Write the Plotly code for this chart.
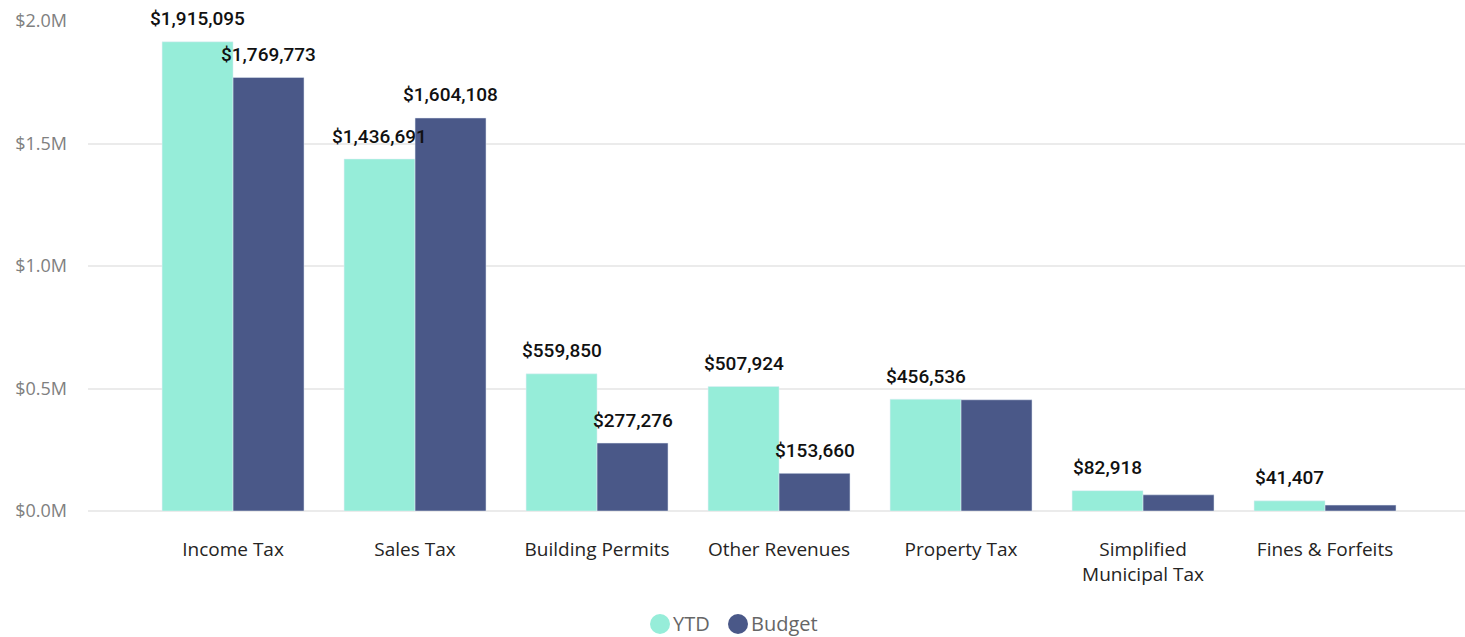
import plotly.graph_objects as go

categories = ["Income Tax", "Sales Tax", "Building Permits", "Other Revenues",
              "Property Tax", "Simplified<br>Municipal Tax", "Fines & Forfeits"]
ytd = [1915095, 1436691, 559850, 507924, 456536, 82918, 41407]
budget = [1769773, 1604108, 277276, 153660, 454000, 66000, 24000]

y_tickvals = [0, 500000, 1000000, 1500000, 2000000]
y_ticktext = ["$0.0M", "$0.5M", "$1.0M", "$1.5M", "$2.0M"]

YTD_COLOR = "#96EDD9"
BUDGET_COLOR = "#4A5888"
LABEL_FONT = dict(family="Roboto, DejaVu Sans", size=19, color="#111111", weight=500)

W, H = 1465, 637
M_L, M_R, M_T, M_B = 88, 0, 21, 126
plot_w = W - M_L - M_R
plot_h = H - M_T - M_B


def px_x(px):
    return (px - M_L) / plot_w


def px_y(py):
    return (H - M_B - py) / plot_h


x_idx = list(range(len(categories)))

fig = go.Figure()
fig.add_trace(go.Bar(x=x_idx, y=ytd, name="YTD", marker_color=YTD_COLOR,
                     hoverinfo="x+y"))
fig.add_trace(go.Bar(x=x_idx, y=budget, name="Budget", marker_color=BUDGET_COLOR,
                     hoverinfo="x+y"))

# Data labels above bars; budget labels are dropped when they would collide
# with the neighbouring YTD label.
bargap = 0.22
half = (1 - bargap) / 4
annotations = []
for i, (a, b) in enumerate(zip(ytd, budget)):
    annotations.append(dict(x=i - half, y=a, xref="x", yref="y",
                            text=f"${a:,.0f}", showarrow=False,
                            yanchor="middle", yshift=23, font=LABEL_FONT))
    if abs(a - b) > 100000:
        annotations.append(dict(x=i + half, y=b, xref="x", yref="y",
                                text=f"${b:,.0f}", showarrow=False,
                                yanchor="middle", yshift=23, font=LABEL_FONT))

# Legend row: round swatch + series name
shapes = []
legend_items = [("YTD", YTD_COLOR, 660), ("Budget", BUDGET_COLOR, 738)]
legend_y = 624
for name, color, cx in legend_items:
    shapes.append(dict(type="circle", xref="paper", yref="paper",
                       xsizemode="pixel", ysizemode="pixel",
                       xanchor=px_x(cx), yanchor=px_y(legend_y),
                       x0=-10, x1=10, y0=-10, y1=10,
                       fillcolor=color, line=dict(width=0)))
    annotations.append(dict(x=px_x(cx + 11), xref="paper", xanchor="left",
                            y=px_y(legend_y), yref="paper", yanchor="middle",
                            text=name, showarrow=False,
                            font=dict(size=20, color="#666666",
                                      family="Segoe UI, Open Sans, sans-serif")))

fig.update_layout(
    width=W, height=H,
    margin=dict(l=M_L, r=M_R, t=M_T, b=M_B, autoexpand=False),
    paper_bgcolor="white", plot_bgcolor="white",
    barmode="group", bargap=bargap, bargroupgap=0,
    showlegend=False,
    annotations=annotations, shapes=shapes,
    font=dict(family="Segoe UI, Open Sans, Noto Sans, sans-serif"),
)

fig.update_xaxes(
    tickmode="array", tickvals=x_idx, ticktext=categories,
    range=[-0.797, 6.769], showgrid=False, zeroline=False, showline=False,
    ticks="", ticklabelstandoff=25,
    tickfont=dict(size=19, color="#252423"),
)
fig.update_yaxes(
    range=[0, 2000000], tickmode="array", tickvals=y_tickvals, ticktext=y_ticktext,
    showgrid=True, gridcolor="#EBEBEB", gridwidth=2,
    zeroline=True, zerolinecolor="#EBEBEB", zerolinewidth=2,
    showline=False, ticks="", ticklabelstandoff=20,
    tickfont=dict(size=18, color="#808080"),
)

fig.write_html("out.html")
